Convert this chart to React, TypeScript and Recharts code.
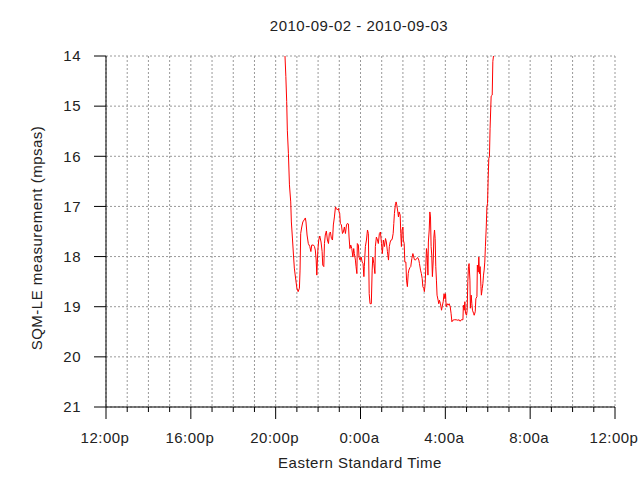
import { LineChart, Line, XAxis, YAxis, CartesianGrid } from 'recharts'

// hours after 12:00p on 2010-09-02
const hours = [
  8.44, 8.48, 8.52, 8.55, 8.6, 8.65, 8.71, 8.74, 8.79, 8.84, 8.88, 8.95, 9.0, 9.06, 9.12, 9.15, 9.18, 9.23, 9.28, 9.34,
  9.4, 9.43, 9.48, 9.54, 9.61, 9.66, 9.7, 9.78, 9.83, 9.87, 9.91, 9.94, 9.99, 10.03, 10.08, 10.14, 10.19, 10.22, 10.27, 10.3,
  10.34, 10.39, 10.44, 10.49, 10.53, 10.58, 10.63, 10.68, 10.72, 10.77, 10.82, 10.86, 10.91, 10.96, 10.99, 11.02, 11.05, 11.1, 11.15, 11.19,
  11.24, 11.29, 11.34, 11.38, 11.43, 11.46, 11.5, 11.54, 11.59, 11.64, 11.68, 11.71, 11.76, 11.79, 11.83, 11.85, 11.9, 11.93, 11.98, 12.03,
  12.08, 12.12, 12.16, 12.18, 12.23, 12.28, 12.33, 12.37, 12.41, 12.45, 12.51, 12.55, 12.58, 12.63, 12.68, 12.7, 12.75, 12.8, 12.84, 12.89,
  12.94, 12.99, 13.03, 13.08, 13.13, 13.18, 13.22, 13.27, 13.32, 13.36, 13.4, 13.44, 13.49, 13.54, 13.57, 13.6, 13.65, 13.68, 13.71, 13.76,
  13.79, 13.82, 13.87, 13.9, 13.93, 13.96, 14.0, 14.02, 14.06, 14.09, 14.14, 14.17, 14.21, 14.25, 14.28, 14.33, 14.37, 14.42, 14.47, 14.5,
  14.54, 14.59, 14.64, 14.7, 14.75, 14.78, 14.83, 14.87, 14.91, 14.94, 14.99, 15.01, 15.05, 15.08, 15.11, 15.14, 15.18, 15.2, 15.24, 15.27,
  15.3, 15.33, 15.36, 15.39, 15.43, 15.46, 15.49, 15.52, 15.55, 15.58, 15.61, 15.66, 15.69, 15.72, 15.77, 15.82, 15.85, 15.9, 15.94, 15.98,
  16.01, 16.04, 16.09, 16.13, 16.18, 16.23, 16.27, 16.31, 16.35, 16.42, 16.51, 16.59, 16.65, 16.7, 16.75, 16.83, 16.85, 16.89, 16.92, 16.95,
  17.0, 17.03, 17.06, 17.09, 17.12, 17.16, 17.18, 17.22, 17.25, 17.28, 17.33, 17.36, 17.41, 17.44, 17.49, 17.51, 17.55, 17.58, 17.61, 17.64,
  17.68, 17.7, 17.74, 17.77, 17.8, 17.83, 17.86, 17.89, 17.93, 17.96, 17.99, 18.02, 18.05, 18.08, 18.11, 18.16, 18.21, 18.24, 18.27,
]

// sky brightness, mag/arcsec^2
const sqm = [
  14.0, 14.41, 14.91, 15.48, 15.94, 16.57, 16.91, 17.31, 17.63, 17.97, 18.23, 18.47, 18.63, 18.7, 18.63, 18.27, 17.54, 17.41, 17.31, 17.27,
  17.23, 17.31, 17.57, 17.74, 17.8, 17.9, 17.77, 17.77, 17.8, 17.87, 18.07, 18.37, 17.87, 17.67, 17.59, 17.71, 17.9, 18.17, 18.2, 17.74,
  17.57, 17.49, 17.67, 17.74, 17.54, 17.51, 17.64, 17.67, 17.37, 17.21, 17.01, 17.04, 17.07, 17.04, 17.11, 17.14, 17.34, 17.37, 17.54, 17.51,
  17.41, 17.54, 17.37, 17.34, 17.35, 17.61, 17.84, 17.77, 17.84, 18.01, 17.84, 17.94, 18.07, 18.2, 18.34, 17.74, 17.77, 18.01, 18.07, 18.01,
  18.11, 18.14, 18.4, 18.2, 17.8, 17.67, 17.47, 17.54, 18.74, 18.94, 18.94, 18.27, 18.01, 18.14, 18.34, 17.8, 17.61, 17.67, 17.74, 17.54,
  17.51, 17.74, 17.94, 17.67, 17.8, 17.64, 17.71, 17.9, 18.07, 17.8, 17.71, 17.67, 17.66, 17.54, 17.34, 17.14, 16.94, 16.91, 16.97, 17.11,
  17.21, 17.11, 17.17, 17.54, 17.8, 17.47, 17.41, 17.67, 17.74, 18.11, 18.11, 18.47, 18.6, 18.34, 18.27, 18.22, 18.2, 18.04, 17.94, 17.99,
  18.06, 18.07, 18.04, 18.02, 18.07, 18.14, 18.27, 18.34, 18.44, 18.6, 18.64, 18.7, 18.54, 18.2, 17.84, 17.94, 18.37, 17.71, 17.47, 17.11,
  17.21, 17.8, 17.97, 18.4, 18.07, 17.61, 17.47, 17.64, 18.2, 18.47, 18.77, 18.87, 18.94, 18.87, 18.94, 19.07, 19.0, 18.9, 18.74, 18.84,
  18.74, 19.0, 18.94, 18.97, 18.94, 19.0, 19.13, 19.3, 19.27, 19.26, 19.26, 19.27, 19.26, 19.29, 19.26, 19.26, 18.97, 19.07, 18.9, 19.13,
  19.17, 19.07, 18.5, 18.2, 18.14, 18.47, 19.03, 18.77, 18.94, 19.07, 19.13, 19.17, 19.1, 18.84, 18.8, 18.17, 18.31, 18.01, 18.34, 18.2,
  18.6, 18.77, 18.64, 18.54, 18.37, 18.27, 18.11, 17.8, 17.41, 17.01, 16.94, 16.44, 16.04, 16.01, 15.44, 14.8, 14.78, 14.11, 14.0,
]

const hourTicks = Array.from({ length: 25 }, (_, i) => i)
const timeLabels = ['12:00p', '16:00p', '20:00p', '0:00a', '4:00a', '8:00a', '12:00p']
const yTicks = [14, 15, 16, 17, 18, 19, 20, 21]

const data = hours.map((t, i) => ({ t, v: sqm[i] }))

const FONT = '"Liberation Sans", Arial, sans-serif'
const TEXT = '#222'

function TimeTick({ x, y, payload }: any) {
  const h = payload.value
  const major = h % 4 === 0
  return (
    <g>
      <line x1={x} y1={y} x2={x} y2={y + (major ? 12 : 5)} stroke="#000" />
      {major && (
        <text x={x - 1} y={y + 36} textAnchor="middle" fontSize={15} fill={TEXT}>
          {timeLabels[h / 4]}
        </text>
      )}
    </g>
  )
}

export default function App() {
  return (
    <div style={{ position: 'absolute', left: 0, top: 0, width: 640, height: 480, background: '#fff', fontFamily: FONT, letterSpacing: '0.5px' }}>
      <LineChart width={640} height={480} data={data} margin={{ top: 56, right: 25, bottom: 43, left: 46 }}>
        <CartesianGrid stroke="#999" strokeDasharray="2 2" />
        <XAxis
          type="number"
          dataKey="t"
          domain={[0, 24]}
          ticks={hourTicks}
          interval={0}
          height={30}
          axisLine={{ stroke: '#000' }}
          tickLine={false}
          tickSize={0}
          tickMargin={0}
          tick={<TimeTick />}
        />
        <YAxis
          type="number"
          domain={[14, 21]}
          ticks={yTicks}
          reversed
          allowDataOverflow
          width={60}
          axisLine={{ stroke: '#000' }}
          tickLine={{ stroke: '#000' }}
          tickSize={12}
          tickMargin={13}
          tick={{ fontSize: 15, fill: TEXT }}
        />
        <Line type="linear" dataKey="v" stroke="#ff0000" strokeWidth={1} dot={false} isAnimationActive={false} />
      </LineChart>
      <svg width={640} height={480} style={{ position: 'absolute', left: 0, top: 0, pointerEvents: 'none' }}>
        <text x={359} y={31} textAnchor="middle" fontSize={15} fill={TEXT}>
          2010-09-02 - 2010-09-03
        </text>
        <text x={360} y={468} textAnchor="middle" fontSize={15} fill={TEXT}>
          Eastern Standard Time
        </text>
        <text x={41.5} y={238} textAnchor="middle" fontSize={15} fill={TEXT} transform="rotate(-90 41.5 238)">
          SQM-LE measurement (mpsas)
        </text>
      </svg>
    </div>
  )
}
